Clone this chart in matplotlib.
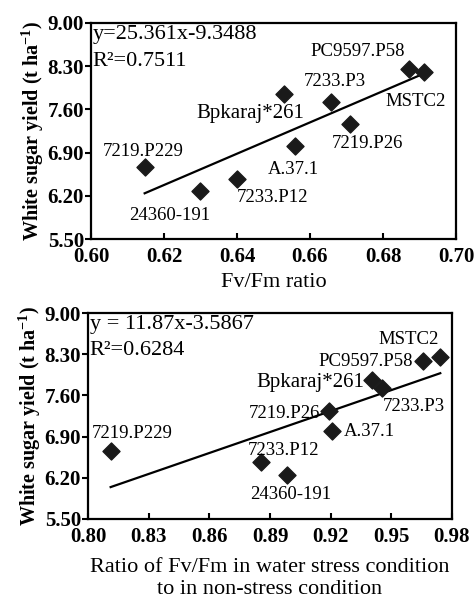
import numpy as np
import matplotlib
matplotlib.use("Agg")
import matplotlib.pyplot as plt

plt.rcParams['font.family'] = ['Liberation Serif', 'DejaVu Serif']
plt.rcParams['mathtext.fontset'] = 'custom'
plt.rcParams['mathtext.rm'] = 'Liberation Serif'
plt.rcParams['mathtext.bf'] = 'Liberation Serif:bold'
plt.rcParams['mathtext.default'] = 'regular'

# genotype names (same order in both panels)
names = ['7219.P229', '24360-191', '7233.P12', 'Bpkaraj*261', 'A.37.1',
         '7233.P3', '7219.P26', 'PC9597.P58', 'MSTC2']

# top panel: Fv/Fm ratio vs white sugar yield
fvfm = [0.6147, 0.6299, 0.6400, 0.6529, 0.6560, 0.6658, 0.6710, 0.6871, 0.6913]
yield_top = [6.67, 6.275, 6.47, 7.846, 7.01, 7.727, 7.36, 8.258, 8.21]

# bottom panel: ratio of Fv/Fm (stress / non-stress) vs yield
fvfm_ratio = [0.8112, 0.8986, 0.8857, 0.9404, 0.9209, 0.9453, 0.9194, 0.9656, 0.9742]
yield_bot = [6.653, 6.256, 6.466, 7.864, 6.99, 7.72, 7.335, 8.176, 8.244]

# label offsets in pixels (dx, dy, ha)
off_top = [(-1, 15, 'center'), (-30, -24, 'center'), (35, -18, 'center'),
           (-34, -19, 'center'), (-2, -24, 'center'), (4, 20, 'center'),
           (17, -19, 'center'), (-51, 17, 'center'), (-9, -30, 'center')]
off_bot = [(22, 18, 'center'), (3, -20, 'center'), (22, 12, 'center'),
           (-8, -3, 'right'), (11, 0, 'left'), (32, -18, 'center'),
           (-9, -3, 'right'), (-10, 0, 'right'), (-32, 18, 'center')]

fig = plt.figure(figsize=(4.74, 5.98), dpi=100)
ax1 = fig.add_axes([91/474, 1 - 239/598, 365/474, 216/598])
ax2 = fig.add_axes([88/474, 1 - 519/598, 364/474, 206/598])


def panel(ax, x, y, slope, icpt, offs, xticks, eq, r2):
    ax.scatter(x, y, marker='D', s=75, color='#1a1a1a', zorder=3)
    xl = np.array([min(x), max(x)])
    ax.plot(xl, slope * xl + icpt, color='black', lw=1.6)
    for n, xi, yi, (dx, dy, ha) in zip(names, x, y, offs):
        fs = 15 if n == 'Bpkaraj*261' else 13.5
        ax.annotate(n, (xi, yi), xytext=(dx, dy), textcoords='offset pixels',
                    ha=ha, va='center', fontsize=fs)
    yt = [5.5, 6.2, 6.9, 7.6, 8.3, 9.0]
    ax.set_ylim(5.5, 9.0)
    ax.set_yticks(yt)
    ax.set_yticklabels(['%.2f' % v for v in yt], fontsize=15, fontweight='bold')
    ax.set_xlim(xticks[0], xticks[-1])
    ax.set_xticks(xticks)
    ax.set_xticklabels(['%.2f' % v for v in xticks], fontsize=15, fontweight='bold')
    ax.tick_params(axis='x', direction='in', length=4, width=1.5, pad=6)
    ax.tick_params(axis='y', direction='out', length=4, width=1.5, pad=1)
    for s in ax.spines.values():
        s.set_linewidth(1.6)
    ax.text(0.005, 0.945, eq, transform=ax.transAxes, fontsize=16, va='center')
    ax.text(0.005, 0.82, r2, transform=ax.transAxes, fontsize=16, va='center')
    ax.set_ylabel('White sugar yield (t ha$^{-1}$)', fontsize=14.5,
                  fontweight='bold', labelpad=1)


panel(ax1, fvfm, yield_top, 25.361, -9.3488, off_top,
      [0.60, 0.62, 0.64, 0.66, 0.68, 0.70], 'y=25.361x-9.3488', 'R²=0.7511')
ax1.set_xlabel('Fv/Fm ratio', fontsize=16, labelpad=4)

panel(ax2, fvfm_ratio, yield_bot, 11.87, -3.5867, off_bot,
      [0.80, 0.83, 0.86, 0.89, 0.92, 0.95, 0.98], 'y = 11.87x-3.5867', 'R²=0.6284')
ax2.set_xlabel('Ratio of Fv/Fm in water stress condition\nto in non-stress condition',
               fontsize=16, labelpad=8, linespacing=1.2)

fig.savefig('out.png', dpi=100)
